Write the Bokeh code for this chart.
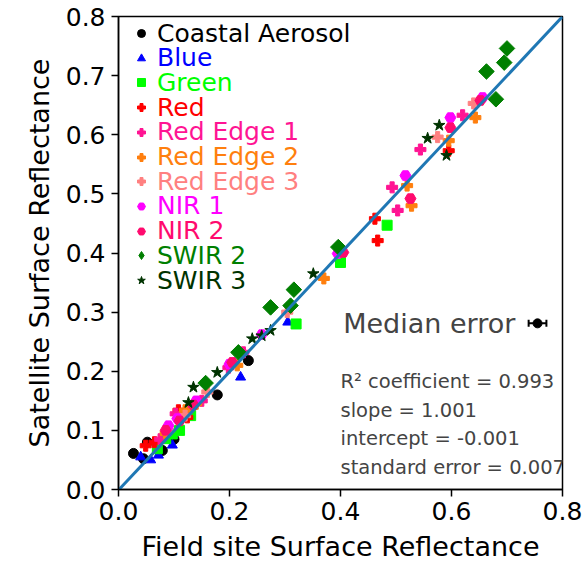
import math
from bokeh.plotting import figure
from bokeh.models import (Range1d, FixedTicker, PrintfTickFormatter, Legend, LegendItem,
                          Label, ColumnDataSource)
from bokeh.embed import file_html
from bokeh.resources import INLINE

FONT = "DejaVu Sans"

# ---------------- data ----------------
bands = ["Coastal Aerosol", "Blue", "Green", "Red", "Red Edge 1", "Red Edge 2",
         "Red Edge 3", "NIR 1", "NIR 2", "SWIR 2", "SWIR 3"]

coastal_x = [0.027, 0.045, 0.052, 0.079, 0.100, 0.178, 0.234]
coastal_y = [0.061, 0.052, 0.080, 0.066, 0.085, 0.160, 0.218]

blue_x = [0.040, 0.058, 0.072, 0.097, 0.220, 0.305]
blue_y = [0.055, 0.050, 0.058, 0.075, 0.190, 0.283]

green_x = [0.070, 0.085, 0.097, 0.110, 0.130, 0.320, 0.400, 0.484]
green_y = [0.069, 0.086, 0.094, 0.100, 0.125, 0.280, 0.384, 0.447]

red_x = [0.049, 0.065, 0.108, 0.124, 0.467, 0.462, 0.595]
red_y = [0.074, 0.080, 0.134, 0.122, 0.421, 0.458, 0.573]

re1_x = [0.075, 0.103, 0.130, 0.150, 0.198, 0.225, 0.493, 0.503, 0.544, 0.620]
re1_y = [0.085, 0.128, 0.139, 0.150, 0.206, 0.232, 0.511, 0.472, 0.575, 0.633]

re2_x = [0.085, 0.120, 0.140, 0.214, 0.370, 0.520, 0.528, 0.595, 0.643]
re2_y = [0.095, 0.134, 0.145, 0.210, 0.357, 0.514, 0.480, 0.590, 0.629]

re3_x = [0.090, 0.120, 0.160, 0.304, 0.575, 0.640]
re3_y = [0.100, 0.125, 0.165, 0.300, 0.596, 0.653]

nir1_x = [0.090, 0.106, 0.140, 0.200, 0.258, 0.395, 0.517, 0.598, 0.656]
nir1_y = [0.108, 0.120, 0.150, 0.212, 0.262, 0.399, 0.531, 0.629, 0.663]

nir2_x = [0.085, 0.110, 0.135, 0.205, 0.405, 0.526, 0.598, 0.652]
nir2_y = [0.100, 0.116, 0.143, 0.215, 0.401, 0.492, 0.612, 0.658]

swir2_x = [0.157, 0.216, 0.274, 0.310, 0.316, 0.396, 0.663, 0.680, 0.695, 0.700]
swir2_y = [0.180, 0.232, 0.308, 0.311, 0.338, 0.410, 0.707, 0.660, 0.722, 0.746]

swir3_x = [0.126, 0.135, 0.178, 0.241, 0.258, 0.274, 0.351, 0.557, 0.578, 0.591]
swir3_y = [0.147, 0.173, 0.198, 0.255, 0.260, 0.269, 0.365, 0.594, 0.616, 0.565]

band_x = [coastal_x, blue_x, green_x, red_x, re1_x, re2_x, re3_x, nir1_x, nir2_x, swir2_x, swir3_x]
band_y = [coastal_y, blue_y, green_y, red_y, re1_y, re2_y, re3_y, nir1_y, nir2_y, swir2_y, swir3_y]

band_colors = ["#000000", "#0000ff", "#00ff00", "#ff0000", "#ff1493", "#ff7f0e",
               "#ff8080", "#ff00ff", "#ff0a6e", "#007f00", "#003300"]
band_markers = ["circle", "triangle", "square", "plus", "plus", "plus", "plus",
                "hex", "hex", "square", "star"]
band_legend_markers = ["circle", "triangle", "square", "plus", "plus", "plus", "plus",
                       "hex", "hex", "diamond", "star"]
band_sizes = [10, 10, 10, 11, 11, 11, 11, 11, 11, 11, 12]
band_angles = [0, 0, 0, 0, 0, 0, 0, 0, 0, math.pi / 4, 0]

# fit statistics
r2 = 0.993
slope = 1.001
intercept = -0.001
std_err = 0.007
line_x = [0.0, 0.8]

# median error
median_x = [0.755]
median_y = [0.281]
median_xerr = [0.016]

x_ticks = [0.0, 0.2, 0.4, 0.6, 0.8]
y_ticks = [0.0, 0.1, 0.2, 0.3, 0.4, 0.5, 0.6, 0.7, 0.8]

# ---------------- figure ----------------
p = figure(width=584, height=567, output_backend="svg", toolbar_location=None,
           x_range=Range1d(0, 0.8), y_range=Range1d(0, 0.8),
           min_border_left=118, min_border_right=22, min_border_top=16, min_border_bottom=78)
p.grid.visible = False
p.outline_line_color = "black"
p.outline_line_width = 1.5

for ax, ticks in ((p.xaxis, x_ticks), (p.yaxis, y_ticks)):
    ax.ticker = FixedTicker(ticks=ticks)
    ax.formatter = PrintfTickFormatter(format="%.1f")
    ax.major_label_text_font = FONT
    ax.major_label_text_font_size = "25px"
    ax.major_label_text_color = "black"
    ax.axis_label_text_font = FONT
    ax.axis_label_text_font_size = "27px"
    ax.axis_label_text_font_style = "normal"
    ax.axis_label_text_color = "black"
    ax.axis_line_width = 1.5
    ax.major_tick_line_width = 1.5
    ax.major_tick_out = 7
    ax.major_tick_in = 0
    ax.minor_tick_line_color = None
p.xaxis.axis_label = "Field site Surface Reflectance"
p.yaxis.axis_label = "Satellite Surface Reflectance"
p.xaxis.major_label_standoff = 5
p.yaxis.major_label_standoff = 6
p.xaxis.axis_label_standoff = 8
p.yaxis.axis_label_standoff = 8

renderers = []
for name, xs, ys, c, m, s, a in zip(bands, band_x, band_y, band_colors, band_markers,
                                     band_sizes, band_angles):
    src = ColumnDataSource(dict(x=xs, y=ys))
    r = p.scatter("x", "y", source=src, marker=m, size=s, angle=a,
                  fill_color=c, line_color=c, line_width=1)
    renderers.append(r)

# legend proxy glyphs (a single NaN point, never drawn in the plot) so the legend
# shows each band's marker shape
legend_renderers = []
for c, m in zip(band_colors, band_legend_markers):
    lr = p.scatter(x=[float("nan")], y=[float("nan")], marker=m, size=8,
                   fill_color=c, line_color=c)
    legend_renderers.append(lr)

# regression line
line_y = [slope * v + intercept for v in line_x]
p.line(line_x, line_y, line_color="#1f77b4", line_width=3)

# median error bar
p.segment(x0=[median_x[0] - median_xerr[0]], y0=median_y,
          x1=[median_x[0] + median_xerr[0]], y1=median_y, line_color="black", line_width=2)
p.scatter(x=[median_x[0] - median_xerr[0], median_x[0] + median_xerr[0]], y=median_y * 2,
          marker="dash", angle=math.pi / 2, size=7, line_color="black", line_width=2)
p.scatter(x=median_x, y=median_y, marker="circle", size=9, color="black")
p.add_layout(Label(x=0.715, y=median_y[0], text="Median error", text_align="right",
                   text_baseline="middle", text_font=FONT, text_font_size="27px"))

# statistics text
stats = [f"R\u00b2 coefficient = {r2:.3f}", f"slope = {slope:.3f}",
         f"intercept = {intercept:.3f}", f"standard error = {std_err:.3f}"]
stats_y = [0.183, 0.134, 0.086, 0.037]
for t, yy in zip(stats, stats_y):
    p.add_layout(Label(x=0.40, y=yy, text=t, text_align="left", text_baseline="middle",
                       text_font=FONT, text_font_size="19.5px"))

# legend: one legend per entry so each label can carry its band colour
frame_h = 567 - 16 - 78
H = 30
for i, (name, r, c) in enumerate(zip(bands, legend_renderers, band_colors)):
    center = 17 + 24.7 * i
    leg = Legend(items=[LegendItem(label=name, renderers=[r])],
                 location=(13, frame_h - center - H / 2),
                 glyph_width=20, glyph_height=H, label_height=H,
                 label_standoff=6, padding=0, margin=0, spacing=0,
                 border_line_alpha=0, background_fill_alpha=0,
                 label_text_font=FONT, label_text_font_size="25px",
                 label_text_color=c, label_text_baseline="middle")
    p.add_layout(leg)

open("out.html", "w").write(file_html(p, INLINE))
